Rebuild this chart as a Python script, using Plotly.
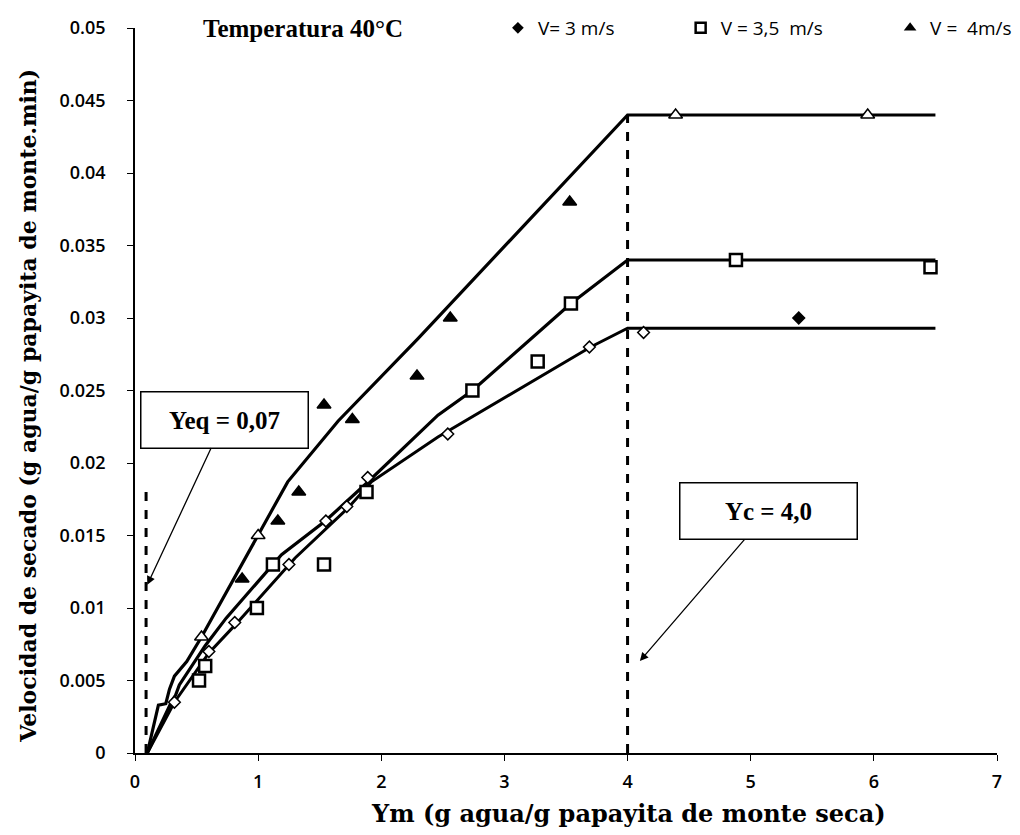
import plotly.graph_objects as go

# ---------------- data ----------------
# V = 3 m/s (diamonds)
x_v3 = [0.32, 0.60, 0.81, 1.25, 1.55, 1.72, 1.89, 2.54, 3.69, 4.13, 5.39]
y_v3 = [0.0035, 0.007, 0.009, 0.013, 0.016, 0.017, 0.019, 0.022, 0.028, 0.029, 0.030]
# V = 3,5 m/s (squares)
x_v35 = [0.52, 0.57, 0.99, 1.12, 1.535, 1.88, 2.74, 3.27, 3.54, 4.88, 6.46]
y_v35 = [0.005, 0.006, 0.010, 0.013, 0.013, 0.018, 0.025, 0.027, 0.031, 0.034, 0.0335]
# V = 4 m/s (triangles)
x_v4 = [0.54, 0.87, 1.00, 1.16, 1.33, 1.535, 1.765, 2.29, 2.56, 3.53, 4.39, 5.95]
y_v4 = [0.008, 0.012, 0.015, 0.016, 0.018, 0.024, 0.023, 0.026, 0.030, 0.038, 0.044, 0.044]

# fitted curves
fit_x_v3 = [0.10, 0.32, 0.60, 0.81, 1.30, 1.73, 1.92, 2.46, 3.70, 4.00, 6.50]
fit_y_v3 = [0.0, 0.0035, 0.0069, 0.0088, 0.01345, 0.0169, 0.0187, 0.0218, 0.028, 0.0293, 0.0293]
fit_x_v35 = [0.10, 0.30, 0.33, 0.36, 0.57, 0.74, 1.19, 1.545, 1.88, 2.46, 2.74, 3.54, 4.00, 6.50]
fit_y_v35 = [0.0, 0.0036, 0.0040, 0.0047, 0.0074, 0.0093, 0.01368, 0.0160, 0.0186, 0.0233, 0.025, 0.031, 0.034, 0.034]
fit_x_v4 = [0.10, 0.17, 0.19, 0.25, 0.28, 0.32, 0.42, 0.54, 1.00, 1.24, 1.65, 2.30, 4.00, 6.50]
fit_y_v4 = [0.0, 0.0024, 0.0033, 0.0034, 0.0044, 0.0053, 0.0063, 0.0080, 0.0150, 0.0187, 0.0229, 0.0286, 0.044, 0.044]

# reference dashed lines
yeq_x = [0.09, 0.09]
yeq_y = [0.0, 0.018]
yc_x = [4.0, 4.0]
yc_y = [0.0, 0.044]

x_ticks = [0, 1, 2, 3, 4, 5, 6, 7]
y_ticks = [0, 0.005, 0.01, 0.015, 0.02, 0.025, 0.03, 0.035, 0.04, 0.045, 0.05]
y_ticktext = ["0", "0.005", "0.01", "0.015", "0.02", "0.025", "0.03", "0.035", "0.04", "0.045", "0.05"]

legend_names = ["V=\u00a03\u00a0m/s", "V\u00a0=\u00a03,5\u00a0\u00a0m/s", "V\u00a0=\u00a0\u00a04m/s"]

# ---------------- styles ----------------
v3_fill = ["white"] * 10 + ["black"]
v4_fill = ["white", "black", "white", "black", "black", "black", "black", "black", "black", "black", "white", "white"]

SERIF = "Liberation Serif"
TITLE_SERIF = "DejaVu Serif"
SANS = "Open Sans"

fig = go.Figure()

for fx, fy, w in [(fit_x_v3, fit_y_v3, 3), (fit_x_v35, fit_y_v35, 3.2), (fit_x_v4, fit_y_v4, 3.2)]:
    fig.add_trace(go.Scatter(x=fx, y=fy, mode="lines", line=dict(color="black", width=w),
                             showlegend=False, hoverinfo="skip"))

for vx, vy in [(yeq_x, yeq_y), (yc_x, yc_y)]:
    fig.add_trace(go.Scatter(x=vx, y=vy, mode="lines", line=dict(color="black", width=3, dash="dash"),
                             showlegend=False, hoverinfo="skip"))

fig.add_trace(go.Scatter(x=x_v3, y=y_v3, mode="markers", showlegend=False,
                         marker=dict(symbol="diamond", size=9, color=v3_fill,
                                     line=dict(color="black", width=1.5))))
fig.add_trace(go.Scatter(x=x_v35, y=y_v35, mode="markers", showlegend=False,
                         marker=dict(symbol="square", size=12, color="white",
                                     line=dict(color="black", width=2.5))))
fig.add_trace(go.Scatter(x=x_v4, y=y_v4, mode="markers", showlegend=False,
                         marker=dict(symbol="triangle-up", size=12, color=v4_fill,
                                     line=dict(color="black", width=1.5))))

# legend entries
fig.add_trace(go.Scatter(x=[None], y=[None], mode="markers", name=legend_names[0], legend="legend",
                         marker=dict(symbol="diamond", size=9, color="black")))
fig.add_trace(go.Scatter(x=[None], y=[None], mode="markers", name=legend_names[1], legend="legend2",
                         marker=dict(symbol="square", size=10, color="white",
                                     line=dict(color="black", width=2.5))))
fig.add_trace(go.Scatter(x=[None], y=[None], mode="markers", name=legend_names[2], legend="legend3",
                         marker=dict(symbol="triangle-up", size=11, color="black")))

leg_common = dict(orientation="h", yanchor="middle", y=1.0, xanchor="left",
                  bgcolor="rgba(0,0,0,0)", font=dict(family=SANS, size=19, color="black"))

fig.update_layout(
    width=1020, height=835,
    paper_bgcolor="white", plot_bgcolor="white",
    margin=dict(l=127, r=31, t=20, b=90, autoexpand=False),
    showlegend=True,
    legend=dict(x=0.421, **leg_common),
    legend2=dict(x=0.633, **leg_common),
    legend3=dict(x=0.876, **leg_common),
    xaxis=dict(range=[0, 7], tickvals=x_ticks, showgrid=False, zeroline=False,
               showline=True, linecolor="black", linewidth=1.5,
               ticks="outside", ticklen=6, tickwidth=1.2, tickcolor="black", ticklabelstandoff=6,
               tickfont=dict(family=SANS, size=18, color="black", weight=600)),
    yaxis=dict(range=[0, 0.05], tickvals=y_ticks, ticktext=y_ticktext, showgrid=False, zeroline=False,
               showline=True, linecolor="black", linewidth=1.5,
               ticks="outside", ticklen=6, tickwidth=1.2, tickcolor="black", ticklabelstandoff=18,
               tickfont=dict(family=SANS, size=18, color="black", weight=600)),
)

annots = [
    dict(text="<b>Temperatura 40°C</b>", xref="paper", yref="paper", x=0.195, y=1.0,
         xanchor="center", yanchor="middle", showarrow=False,
         font=dict(family=SERIF, size=25, color="black")),
    dict(text="<b>Ym (g agua/g papayita de monte seca)</b>", xref="paper", yref="paper",
         x=0.573, y=-0.084, xanchor="center", yanchor="middle", showarrow=False,
         font=dict(family=TITLE_SERIF, size=24, color="black")),
    dict(text="<b>Velocidad de secado (g agua/g papayita de monte.min)</b>", xref="paper", yref="paper",
         x=-0.124, y=0.479, xanchor="center", yanchor="middle", showarrow=False, textangle=-90,
         font=dict(family=TITLE_SERIF, size=22, color="black")),
    dict(text="<b>Yeq = 0,07</b>", x=0.10, y=0.0116, xref="x", yref="y",
         ax=77, ay=-165, axref="pixel", ayref="pixel",
         showarrow=True, arrowhead=2, arrowsize=1.3, arrowwidth=1.3, arrowcolor="black",
         width=162, height=51, bordercolor="black", borderwidth=1.5, borderpad=2, bgcolor="white",
         font=dict(family=SERIF, size=25, color="black")),
    dict(text="<b>Yc = 4,0</b>", x=4.10, y=0.00634, xref="x", yref="y",
         ax=129, ay=-150, axref="pixel", ayref="pixel",
         showarrow=True, arrowhead=2, arrowsize=1.3, arrowwidth=1.3, arrowcolor="black",
         width=172, height=51, bordercolor="black", borderwidth=1.5, borderpad=2, bgcolor="white",
         font=dict(family=SERIF, size=25, color="black")),
]
fig.update_layout(annotations=annots)

fig.write_html("out.html")
